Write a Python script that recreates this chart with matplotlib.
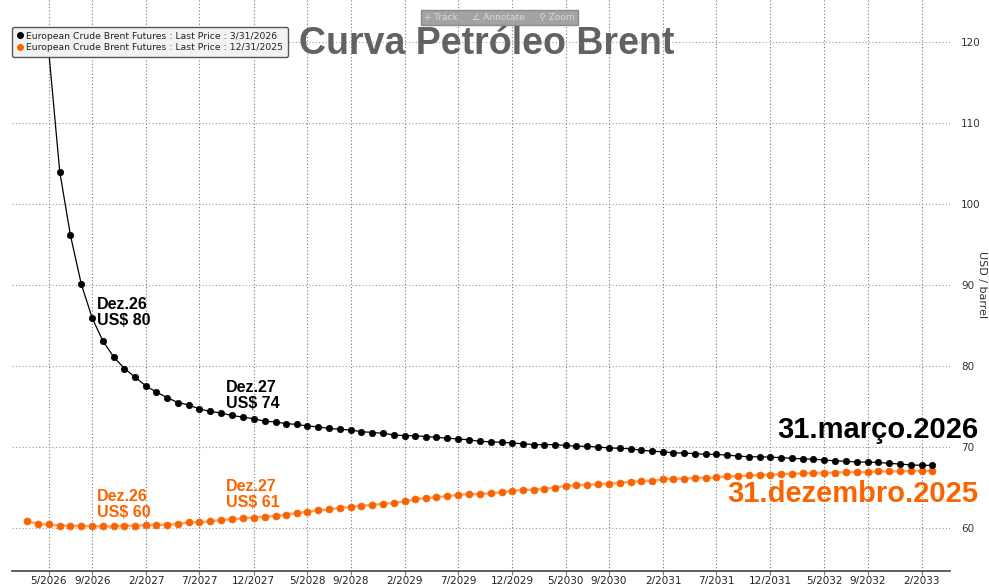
import matplotlib
matplotlib.use('Agg')
import matplotlib.pyplot as plt
from matplotlib.lines import Line2D
import pandas as pd

# curva de 31/03/2026 (a partir de 5/2026), USD / barrel
curva_mar26 = [118.8, 104.0, 96.2, 90.1, 85.9, 83.1, 81.1, 79.7,
               78.6, 77.5, 76.8, 76.1, 75.5, 75.2, 74.7, 74.4, 74.2, 73.9, 73.7, 73.5,
               73.2, 73.1, 72.9, 72.8, 72.6, 72.5, 72.3, 72.2, 72.1, 71.9, 71.8, 71.7,
               71.5, 71.4, 71.4, 71.3, 71.2, 71.1, 71.0, 70.9, 70.7, 70.65, 70.6, 70.5,
               70.4, 70.3, 70.3, 70.3, 70.2, 70.1, 70.1, 70.0, 69.9, 69.85, 69.8, 69.6,
               69.5, 69.4, 69.3, 69.25, 69.2, 69.1, 69.1, 69.0, 68.9, 68.8, 68.8, 68.75,
               68.7, 68.6, 68.55, 68.5, 68.4, 68.3, 68.25, 68.15, 68.15, 68.1, 68.0, 67.9,
               67.8, 67.75, 67.75]

# curva de 31/12/2025 (a partir de 3/2026)
curva_dez25 = [60.9, 60.5, 60.45, 60.3, 60.3, 60.25, 60.25, 60.2, 60.2, 60.3,
               60.3, 60.35, 60.4, 60.4, 60.5, 60.7, 60.7, 60.85, 61.0, 61.1, 61.2, 61.3,
               61.4, 61.5, 61.65, 61.85, 62.0, 62.2, 62.3, 62.5, 62.6, 62.75, 62.85, 63.0,
               63.1, 63.3, 63.55, 63.7, 63.8, 63.95, 64.1, 64.2, 64.2, 64.3, 64.4, 64.6,
               64.7, 64.75, 64.85, 65.0, 65.2, 65.3, 65.35, 65.4, 65.5, 65.6, 65.7, 65.8,
               65.85, 66.0, 66.1, 66.1, 66.2, 66.2, 66.25, 66.4, 66.4, 66.5, 66.55, 66.6,
               66.65, 66.7, 66.75, 66.8, 66.8, 66.85, 66.9, 66.9, 66.9, 67.0, 67.0, 67.0,
               67.05, 67.05, 67.1]

datas_mar26 = pd.date_range('2026-05-01', periods=len(curva_mar26), freq='MS')
datas_dez25 = pd.date_range('2026-03-01', periods=len(curva_dez25), freq='MS')

ticks_x = ['2026-05-01', '2026-09-01', '2027-02-01', '2027-07-01', '2027-12-01',
           '2028-05-01', '2028-09-01', '2029-02-01', '2029-07-01', '2029-12-01',
           '2030-05-01', '2030-09-01', '2031-02-01', '2031-07-01', '2031-12-01',
           '2032-05-01', '2032-09-01', '2033-02-01']
labels_x = ['5/2026', '9/2026', '2/2027', '7/2027', '12/2027', '5/2028', '9/2028',
            '2/2029', '7/2029', '12/2029', '5/2030', '9/2030', '2/2031', '7/2031',
            '12/2031', '5/2032', '9/2032', '2/2033']
ticks_y = [60, 70, 80, 90, 100, 110, 120]

laranja = '#fa6400'

W, H = 989, 584
fig = plt.figure(figsize=(W / 100, H / 100), dpi=100)
ax = fig.add_axes([12 / W, 13 / H, 938 / W, 571 / H])

ax.plot(datas_dez25, curva_dez25, color='#f8a56a', lw=1.8, marker='o', ms=5,
        mfc=laranja, mec=laranja, mew=0.5, zorder=3)
ax.plot(datas_mar26, curva_mar26, color='black', lw=0.9, marker='o', ms=4.6,
        mfc='black', mec='black', mew=0.5, zorder=4)

ax.set_xlim(pd.Timestamp('2026-01-17'), pd.Timestamp('2033-04-22'))
ax.set_ylim(54.7, 125.2)

ax.set_xticks(pd.to_datetime(ticks_x))
ax.set_xticklabels(labels_x)
ax.set_yticks(ticks_y)
ax.yaxis.tick_right()
ax.tick_params(axis='x', length=3, color='#777777', labelsize=7.5, pad=0.5,
               labelcolor='#222222')
ax.tick_params(axis='y', length=0, labelsize=7.5, pad=8, labelcolor='#333333')

ax.xaxis.grid(True, color='#777777', lw=0.8, ls=(0, (1, 2)))
ax.yaxis.grid(True, color='#999999', lw=0.8, ls=(0, (1, 2)))
ax.set_axisbelow(True)
for s in ['top', 'left', 'right']:
    ax.spines[s].set_visible(False)
ax.spines['bottom'].set_color('#444444')
ax.spines['bottom'].set_linewidth(1.2)

# legenda
handles = [Line2D([], [], marker='o', ls='none', color='black', ms=4),
           Line2D([], [], marker='o', ls='none', color=laranja, ms=4)]
leg = fig.legend(handles,
                 ['European Crude Brent Futures : Last Price : 3/31/2026',
                  'European Crude Brent Futures : Last Price : 12/31/2025'],
                 loc='upper left', bbox_to_anchor=(12 / W, 1 - 27 / H),
                 fontsize=6.7, frameon=True, handletextpad=0.25, handlelength=0.8,
                 borderpad=0.5, labelspacing=0.25, borderaxespad=0, fancybox=True)
leg.get_frame().set_facecolor('#f2f2f2')
leg.get_frame().set_edgecolor('#555555')
leg.get_frame().set_alpha(1)
for t in leg.get_texts():
    t.set_color('#222222')

# barra de ferramentas
fig.text(424 / W, 1 - 17.5 / H, '+ Track     \u2220 Annotate     \u26b2 Zoom',
         fontsize=6.5, color='#d8d8d8', va='center', ha='left',
         family=['DejaVu Sans', 'Noto Sans'],
         bbox=dict(boxstyle='square,pad=0.35', fc='#a3a3a3', ec='#8a8a8a'))


def px(x, y):
    return x / W, 1 - y / H


# rótulo do eixo y
fig.text(*px(982, 285), 'USD / barrel', rotation=270, fontsize=8, color='#333333',
         ha='center', va='center')

fig.text(*px(487, 54), 'Curva Petróleo Brent', family='Liberation Sans',
         fontweight='bold', fontsize=27, color='#626262', ha='center', va='baseline')

fig.text(*px(978, 438), '31.março.2026', family='Liberation Sans',
         fontweight='bold', fontsize=21, color='black', ha='right', va='baseline')
fig.text(*px(978, 502), '31.dezembro.2025', family='Liberation Sans',
         fontweight='bold', fontsize=21, color=laranja, ha='right', va='baseline')

notas = [(97, 297, 'Dez.26\nUS$ 80', 'black'),
         (226, 380, 'Dez.27\nUS$ 74', 'black'),
         (97, 489, 'Dez.26\nUS$ 60', laranja),
         (226, 479, 'Dez.27\nUS$ 61', laranja)]
for x, y, txt, cor in notas:
    fig.text(*px(x, y), txt, family='Liberation Sans', fontweight='bold',
             fontsize=11.5, color=cor, ha='left', va='top', linespacing=1.1)

fig.savefig('out.png', dpi=100, facecolor='white')
